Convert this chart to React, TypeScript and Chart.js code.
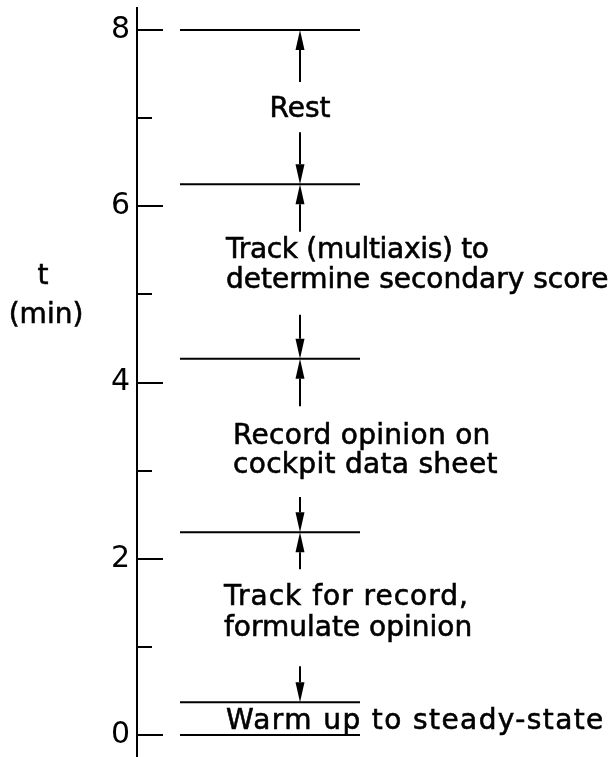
import React, { useEffect, useRef } from 'react';
import { Chart, registerables } from 'chart.js';

Chart.register(...registerables);

// ---- data (time in minutes) ----
const tickValues = [0, 1, 2, 3, 4, 5, 6, 7, 8];
const tickLabels = ['0', '', '2', '', '4', '', '6', '', '8'];
const phaseBoundaries = [0, 0.37, 2.3, 4.27, 6.25, 8.0];
const arrowTails = [7.41, 6.84, 5.71, 4.77, 3.73, 2.7, 1.88, 0.78];
const arrowHeads = [8.0, 6.25, 6.25, 4.27, 4.27, 2.3, 2.3, 0.37];
const phaseLabels = [
  ['Rest'],
  ['Track (multiaxis) to', 'determine secondary score'],
  ['Record opinion on', 'cockpit data sheet'],
  ['Track for record,', 'formulate opinion'],
  ['Warm up to steady-state'],
];
const phaseLabelBaselines = [[7.01], [5.41, 5.07], [3.3, 2.97], [1.47, 1.12], [0.07]];
const axisTitle = ['t', '(min)'];

// ---- style / layout constants ----
const FONT_FAMILY = '"DejaVu Sans", sans-serif';
const FONT_SIZE = 28;
const TICK_FONT_SIZE = 30;
const W = 612;
const H = 757;
const AXIS_X = 137;
const LINE_X0 = 43; // x-scale units = px from axis
const LINE_X1 = 223;
const ARROW_X = 163;
const LABEL_X = [163, 89, 96, 87, 89]; // first is centred
const LABEL_ALIGN: CanvasTextAlign[] = ['center', 'left', 'left', 'left', 'left'];
const LABEL_SPACING = [[0], [-0.3, 0], [0.3, 0.3], [1, 0], [1.4]];
const MAJOR_TICK = 26;
const MINOR_TICK = 15;

export default function App() {
  const ref = useRef<HTMLCanvasElement>(null);

  useEffect(() => {
    const canvas = ref.current!;
    const datasets = phaseBoundaries.map((b) => ({
      type: 'line' as const,
      data: [
        { x: LINE_X0, y: b },
        { x: LINE_X1, y: b },
      ],
      borderColor: '#000',
      borderWidth: 2,
      pointRadius: 0,
      fill: false,
      tension: 0,
    }));

    const overlay = {
      id: 'overlay',
      afterDraw(chart: any) {
        const { ctx, chartArea, scales } = chart;
        const x = scales.x;
        const y = scales.y;
        ctx.save();
        ctx.strokeStyle = '#000';
        ctx.fillStyle = '#000';
        ctx.lineWidth = 2;
        // inward tick marks
        tickValues.forEach((v, i) => {
          const py = Math.round(y.getPixelForValue(v));
          const len = tickLabels[i] ? MAJOR_TICK : MINOR_TICK;
          ctx.beginPath();
          ctx.moveTo(chartArea.left, py);
          ctx.lineTo(chartArea.left + len, py);
          ctx.stroke();
        });
        // arrows
        const ax = x.getPixelForValue(ARROW_X);
        arrowTails.forEach((t, i) => {
          const y0 = y.getPixelForValue(t);
          const y1 = y.getPixelForValue(arrowHeads[i]);
          const dir = y1 > y0 ? 1 : -1;
          const headLen = 20;
          const half = 4.5;
          ctx.beginPath();
          ctx.moveTo(ax, y0);
          ctx.lineTo(ax, y1 - dir * headLen);
          ctx.stroke();
          ctx.beginPath();
          ctx.moveTo(ax, y1);
          ctx.lineTo(ax - half, y1 - dir * headLen);
          ctx.lineTo(ax + half, y1 - dir * headLen);
          ctx.closePath();
          ctx.fill();
        });
        // phase labels
        ctx.font = `${FONT_SIZE}px ${FONT_FAMILY}`;
        ctx.textBaseline = 'alphabetic';
        ctx.lineWidth = 0.6;
        phaseLabels.forEach((lines, i) => {
          ctx.textAlign = LABEL_ALIGN[i];
          const px = x.getPixelForValue(LABEL_X[i]);
          lines.forEach((line, j) => {
            const py = y.getPixelForValue(phaseLabelBaselines[i][j]);
            (ctx as any).letterSpacing = `${LABEL_SPACING[i][j]}px`;
            ctx.fillText(line, px, py);
            ctx.strokeText(line, px, py);
          });
        });
        (ctx as any).letterSpacing = '0px';
        // axis title
        ctx.textAlign = 'center';
        ctx.fillText(axisTitle[0], 43, 284);
        ctx.strokeText(axisTitle[0], 43, 284);
        ctx.fillText(axisTitle[1], 46, 323);
        ctx.strokeText(axisTitle[1], 46, 323);
        ctx.restore();
      },
    };

    const chart = new Chart(canvas, {
      type: 'line',
      data: { datasets: datasets as any },
      options: {
        animation: false,
        responsive: false,
        devicePixelRatio: 1,
        layout: { padding: { top: 8, bottom: 0, left: 0, right: 0 } },
        plugins: { legend: { display: false }, tooltip: { enabled: false } },
        scales: {
          x: { type: 'linear', min: 0, max: W - AXIS_X, display: false },
          y: {
            type: 'linear',
            min: -0.25,
            max: 8.25,
            afterFit: (s: any) => {
              s.width = AXIS_X;
              s.paddingTop = 0;
              s.paddingBottom = 0;
            },
            afterBuildTicks: (s: any) => {
              s.ticks = tickValues.map((v) => ({ value: v }));
            },
            ticks: {
              autoSkip: false,
              padding: 7,
              color: '#000',
              font: { family: FONT_FAMILY, size: TICK_FONT_SIZE },
              callback: (v: any) => {
                const i = tickValues.indexOf(Number(v));
                return i >= 0 ? tickLabels[i] : '';
              },
            },
            grid: { display: false, drawTicks: false },
            border: { display: true, color: '#000', width: 2 },
          },
        },
      } as any,
      plugins: [overlay],
    });
    return () => chart.destroy();
  }, []);

  return (
    <div style={{ position: 'absolute', left: 0, top: 0, width: W, height: H, background: '#fff' }}>
      <canvas ref={ref} width={W} height={H} />
    </div>
  );
}
